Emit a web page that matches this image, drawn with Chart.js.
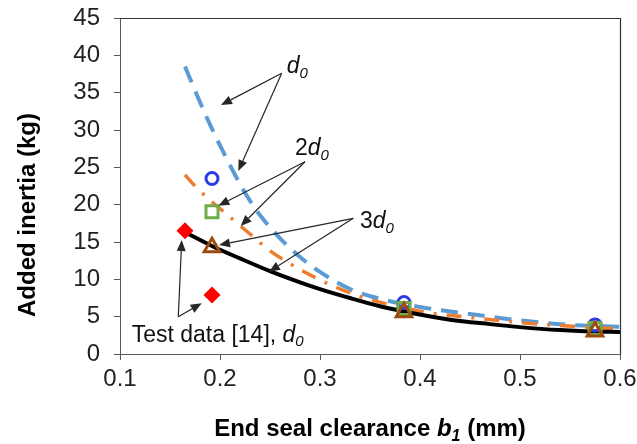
<!DOCTYPE html>
<html>
<head>
<meta charset="utf-8">
<script src="https://cdn.jsdelivr.net/npm/chart.js@4.4.1/dist/chart.umd.min.js"></script>
<style>
  html, body { margin: 0; padding: 0; background: #fff; }
</style>
</head>
<body>
<canvas id="chart" width="637" height="444"></canvas>
<script>
// model curves (one clearance per point)
const d0LineX = [0.165, 0.175, 0.185, 0.195, 0.205, 0.215, 0.225, 0.24, 0.26, 0.28, 0.30, 0.33, 0.363, 0.40, 0.43, 0.47, 0.50, 0.55, 0.60];
const d0LineY = [38.5, 35.3, 32.2, 29.3, 26.6, 24.0, 21.6, 18.6, 15.5, 13.0, 11.0, 8.7, 7.3, 6.3, 5.7, 5.0, 4.5, 3.9, 3.65];

const d2LineX = [0.165, 0.175, 0.19, 0.205, 0.22, 0.235, 0.25, 0.27, 0.29, 0.31, 0.34, 0.37, 0.41, 0.45, 0.51, 0.56, 0.60];
const d2LineY = [24.0, 22.5, 20.6, 18.9, 17.2, 15.5, 13.8, 12.1, 10.6, 9.3, 7.7, 6.6, 5.5, 4.9, 4.1, 3.65, 3.35];

const d3LineX = [0.165, 0.193, 0.22, 0.25, 0.28, 0.30, 0.33, 0.36, 0.384, 0.43, 0.47, 0.50, 0.54, 0.57, 0.60];
const d3LineY = [16.3, 14.4, 12.8, 11.1, 9.6, 8.7, 7.5, 6.4, 5.7, 4.6, 4.0, 3.6, 3.2, 3.02, 2.95];

// CFD points
const cfdX = [0.192, 0.384, 0.575];
const d0PtsY = [23.5, 6.9, 3.9];
const d2PtsY = [19.05, 6.1, 3.4];
const d3PtsY = [14.3, 5.6, 3.0];

// test data [14]
const testX = [0.165, 0.192];
const testY = [16.5, 7.9];

const xTicks = [0.1, 0.2, 0.3, 0.4, 0.5, 0.6];
const yTicks = [0, 5, 10, 15, 20, 25, 30, 35, 40, 45];

// annotation labels and arrows, in data units
const labels = [
  { pre: "", x: 0.2667, y: 37.6 },
  { pre: "2", x: 0.275, y: 26.65 },
  { pre: "3", x: 0.34, y: 16.83 },
  { pre: "Test data [14], ", x: 0.1117, y: 1.65 },
];
const arrows = [
  [0.2617, 37.6, 0.201, 33.35],
  [0.2617, 37.6, 0.2183, 24.5],
  [0.285, 25.75, 0.1983, 19.86],
  [0.285, 25.75, 0.2207, 17.14],
  [0.3333, 18.17, 0.199, 14.6],
  [0.3333, 18.17, 0.249, 11.02],
  [0.1583, 5.0, 0.1617, 15.27],
  [0.1583, 5.0, 0.1817, 6.79],
];

const FONT = '"Liberation Sans", Arial, sans-serif';

const pts = (xs, ys) => xs.map((x, i) => ({ x: x, y: ys[i] }));

function drawArrow(ctx, x1, y1, x2, y2) {
  const a = Math.atan2(y2 - y1, x2 - x1);
  const head = 11, half = 4.5;
  const bx = x2 - head * Math.cos(a), by = y2 - head * Math.sin(a);
  ctx.beginPath();
  ctx.moveTo(x1, y1);
  ctx.lineTo(bx, by);
  ctx.stroke();
  ctx.beginPath();
  ctx.moveTo(x2, y2);
  ctx.lineTo(bx + half * Math.sin(a), by - half * Math.cos(a));
  ctx.lineTo(bx - half * Math.sin(a), by + half * Math.cos(a));
  ctx.closePath();
  ctx.fill();
}

function drawDLabel(ctx, x, y, pre, size) {
  ctx.textAlign = "left";
  ctx.textBaseline = "alphabetic";
  ctx.font = `${size}px ${FONT}`;
  ctx.fillText(pre, x, y);
  x += ctx.measureText(pre).width;
  ctx.font = `italic ${size}px ${FONT}`;
  ctx.fillText("d", x, y);
  x += ctx.measureText("d").width;
  ctx.font = `italic ${Math.round(size * 0.65)}px ${FONT}`;
  ctx.fillText("0", x, y + size * 0.2);
}

const extras = {
  id: "extras",
  afterDraw(chart) {
    const ctx = chart.ctx;
    const { left, right, top, bottom } = chart.chartArea;
    const xs = chart.scales.x, ys = chart.scales.y;
    ctx.save();

    // top and right frame
    ctx.strokeStyle = "#333";
    ctx.lineWidth = 1.2;
    ctx.beginPath();
    ctx.moveTo(left, Math.round(top) + 0.5);
    ctx.lineTo(Math.round(right) + 0.5, Math.round(top) + 0.5);
    ctx.lineTo(Math.round(right) + 0.5, bottom);
    ctx.stroke();

    // arrows
    ctx.strokeStyle = "#262626";
    ctx.fillStyle = "#262626";
    ctx.lineWidth = 1.2;
    arrows.forEach((a) => {
      drawArrow(ctx, xs.getPixelForValue(a[0]), ys.getPixelForValue(a[1]),
        xs.getPixelForValue(a[2]), ys.getPixelForValue(a[3]));
    });

    // labels
    ctx.fillStyle = "#111";
    labels.forEach((l) => {
      drawDLabel(ctx, xs.getPixelForValue(l.x), ys.getPixelForValue(l.y), l.pre, 23);
    });

    // x axis title with italic b1
    const sz = 24;
    const parts = [
      ["End seal clearance ", `bold ${sz}px ${FONT}`, 0],
      ["b", `italic bold ${sz}px ${FONT}`, 0],
      ["1", `italic bold ${Math.round(sz * 0.65)}px ${FONT}`, sz * 0.2],
      [" (mm)", `bold ${sz}px ${FONT}`, 0],
    ];
    let w = 0;
    parts.forEach((p) => { ctx.font = p[1]; w += ctx.measureText(p[0]).width; });
    let tx = (left + right) / 2 - w / 2;
    const ty = bottom + 82;
    ctx.fillStyle = "#000";
    ctx.textAlign = "left";
    ctx.textBaseline = "alphabetic";
    parts.forEach((p) => {
      ctx.font = p[1];
      ctx.fillText(p[0], tx, ty + p[2]);
      tx += ctx.measureText(p[0]).width;
    });

    // y axis title
    ctx.translate(28, 215);
    ctx.rotate(-Math.PI / 2);
    ctx.font = `bold ${sz}px ${FONT}`;
    ctx.textAlign = "center";
    ctx.textBaseline = "middle";
    ctx.fillText("Added inertia (kg)", 0, 0);

    ctx.restore();
  },
};

const axisGrid = {
  display: true,
  drawOnChartArea: false,
  drawTicks: true,
  tickLength: 6,
  color: "#595959",
  lineWidth: 1,
};

new Chart("chart", {
  type: "scatter",
  data: {
    datasets: [
      {
        data: pts(cfdX, d3PtsY),
        pointStyle: "triangle",
        pointRadius: 9,
        pointBorderWidth: 3,
        pointBorderColor: "#9c4a0e",
        pointBackgroundColor: "rgba(0,0,0,0)",
      },
      {
        data: pts(cfdX, d2PtsY),
        pointStyle: "rect",
        pointRadius: 8.5,
        pointBorderWidth: 3,
        pointBorderColor: "#70ad47",
        pointBackgroundColor: "rgba(0,0,0,0)",
      },
      {
        data: pts(cfdX, d0PtsY),
        pointStyle: "circle",
        pointRadius: 6,
        pointBorderWidth: 3,
        pointBorderColor: "#2b3be6",
        pointBackgroundColor: "rgba(0,0,0,0)",
      },
      {
        data: pts(testX, testY),
        pointStyle: "rectRot",
        pointRadius: 8.5,
        pointBorderWidth: 0,
        pointBackgroundColor: "#ff0000",
      },
      {
        data: pts(d3LineX, d3LineY),
        showLine: true,
        pointRadius: 0,
        borderColor: "#000",
        borderWidth: 4,
        cubicInterpolationMode: "monotone",
      },
      {
        data: pts(d2LineX, d2LineY),
        showLine: true,
        pointRadius: 0,
        borderColor: "#ed7d31",
        borderWidth: 3.5,
        borderDash: [15, 10, 3, 10],
        cubicInterpolationMode: "monotone",
      },
      {
        data: pts(d0LineX, d0LineY),
        showLine: true,
        pointRadius: 0,
        borderColor: "#5b9bd5",
        borderWidth: 4,
        borderDash: [17, 10],
        cubicInterpolationMode: "monotone",
      },
    ],
  },
  options: {
    responsive: false,
    animation: false,
    layout: { padding: { top: 18, right: 17, left: 0, bottom: 0 } },
    plugins: {
      legend: { display: false },
      tooltip: { enabled: false },
    },
    scales: {
      x: {
        type: "linear",
        min: 0.1,
        max: 0.6,
        afterFit: (scale) => {
          scale.height = 90;
          scale.paddingLeft = 0;
          scale.paddingRight = 0;
        },
        afterBuildTicks: (scale) => { scale.ticks = xTicks.map((v) => ({ value: v })); },
        grid: axisGrid,
        border: { display: true, color: "#595959", width: 1 },
        ticks: {
          padding: 5,
          color: "#222",
          font: { family: FONT, size: 24 },
          callback: (v) => v.toFixed(1),
        },
      },
      y: {
        type: "linear",
        min: 0,
        max: 45,
        afterFit: (scale) => {
          scale.width = 120;
          scale.paddingTop = 0;
          scale.paddingBottom = 0;
        },
        afterBuildTicks: (scale) => { scale.ticks = yTicks.map((v) => ({ value: v })); },
        grid: axisGrid,
        border: { display: true, color: "#595959", width: 1 },
        ticks: {
          padding: 14,
          color: "#222",
          font: { family: FONT, size: 24 },
        },
      },
    },
  },
  plugins: [extras],
});
</script>
</body>
</html>
